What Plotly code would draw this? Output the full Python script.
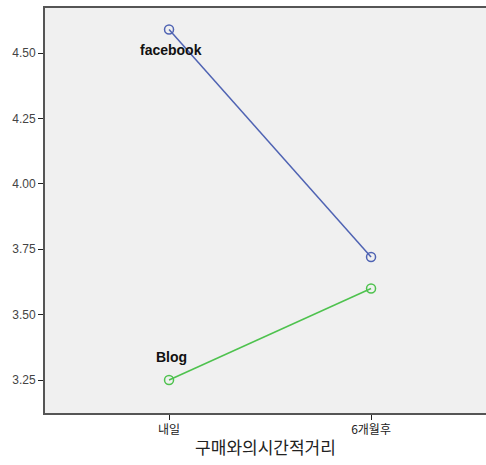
import plotly.graph_objects as go

categories = ["내일", "6개월후"]
facebook_values = [4.59, 3.72]
blog_values = [3.25, 3.60]
series_names = ["facebook", "Blog"]
y_ticks = [3.25, 3.50, 3.75, 4.00, 4.25, 4.50]
x_title = "구매와의시간적거리"

x_pos = [0, 1]

fig = go.Figure()
fig.add_trace(go.Scatter(
    x=x_pos, y=facebook_values, mode="lines+markers", name=series_names[0],
    line=dict(color="#4f63b3", width=1.5),
    marker=dict(symbol="circle-open", size=9, color="#4f63b3", line=dict(width=1.5)),
))
fig.add_trace(go.Scatter(
    x=x_pos, y=blog_values, mode="lines+markers", name=series_names[1],
    line=dict(color="#4ec24e", width=1.5),
    marker=dict(symbol="circle-open", size=9, color="#4ec24e", line=dict(width=1.5)),
))

fig.add_annotation(x=x_pos[0], y=facebook_values[0], text="<b>" + series_names[0] + "</b>",
                   showarrow=False, yshift=-21, xshift=2,
                   font=dict(family="Liberation Sans, Arial", size=14, color="#111"))
fig.add_annotation(x=x_pos[0], y=blog_values[0], text="<b>" + series_names[1] + "</b>",
                   showarrow=False, yshift=23, xshift=2,
                   font=dict(family="Liberation Sans, Arial", size=14, color="#111"))

fig.update_layout(
    width=486, height=465,
    margin=dict(l=45, r=0, t=8, b=52),
    paper_bgcolor="white", plot_bgcolor="#f0f0f0",
    showlegend=False,
    xaxis=dict(
        range=[-0.614, 1.569], tickvals=x_pos, ticktext=categories,
        ticks="outside", ticklen=5, tickcolor="#222", tickwidth=1,
        showgrid=False, zeroline=False,
        showline=True, linecolor="#555", linewidth=2, mirror=True,
        tickfont=dict(family="Noto Sans CJK KR", size=12, color="#222"),
        title=dict(text=x_title, font=dict(family="Noto Sans CJK KR", size=17, color="#222"), standoff=6),
    ),
    yaxis=dict(
        range=[3.124, 4.672], tickvals=y_ticks, ticktext=["%.2f" % v for v in y_ticks],
        ticks="outside", ticklen=5, tickcolor="#222", tickwidth=1,
        showgrid=False, zeroline=False,
        showline=True, linecolor="#555", linewidth=2, mirror=False,
        tickfont=dict(family="Liberation Sans, Arial", size=12, color="#444"),
    ),
)

fig.write_html("out.html",
               config={"displayModeBar": False},
               post_script="document.body.style.margin='0px';document.body.style.overflow='hidden';")
